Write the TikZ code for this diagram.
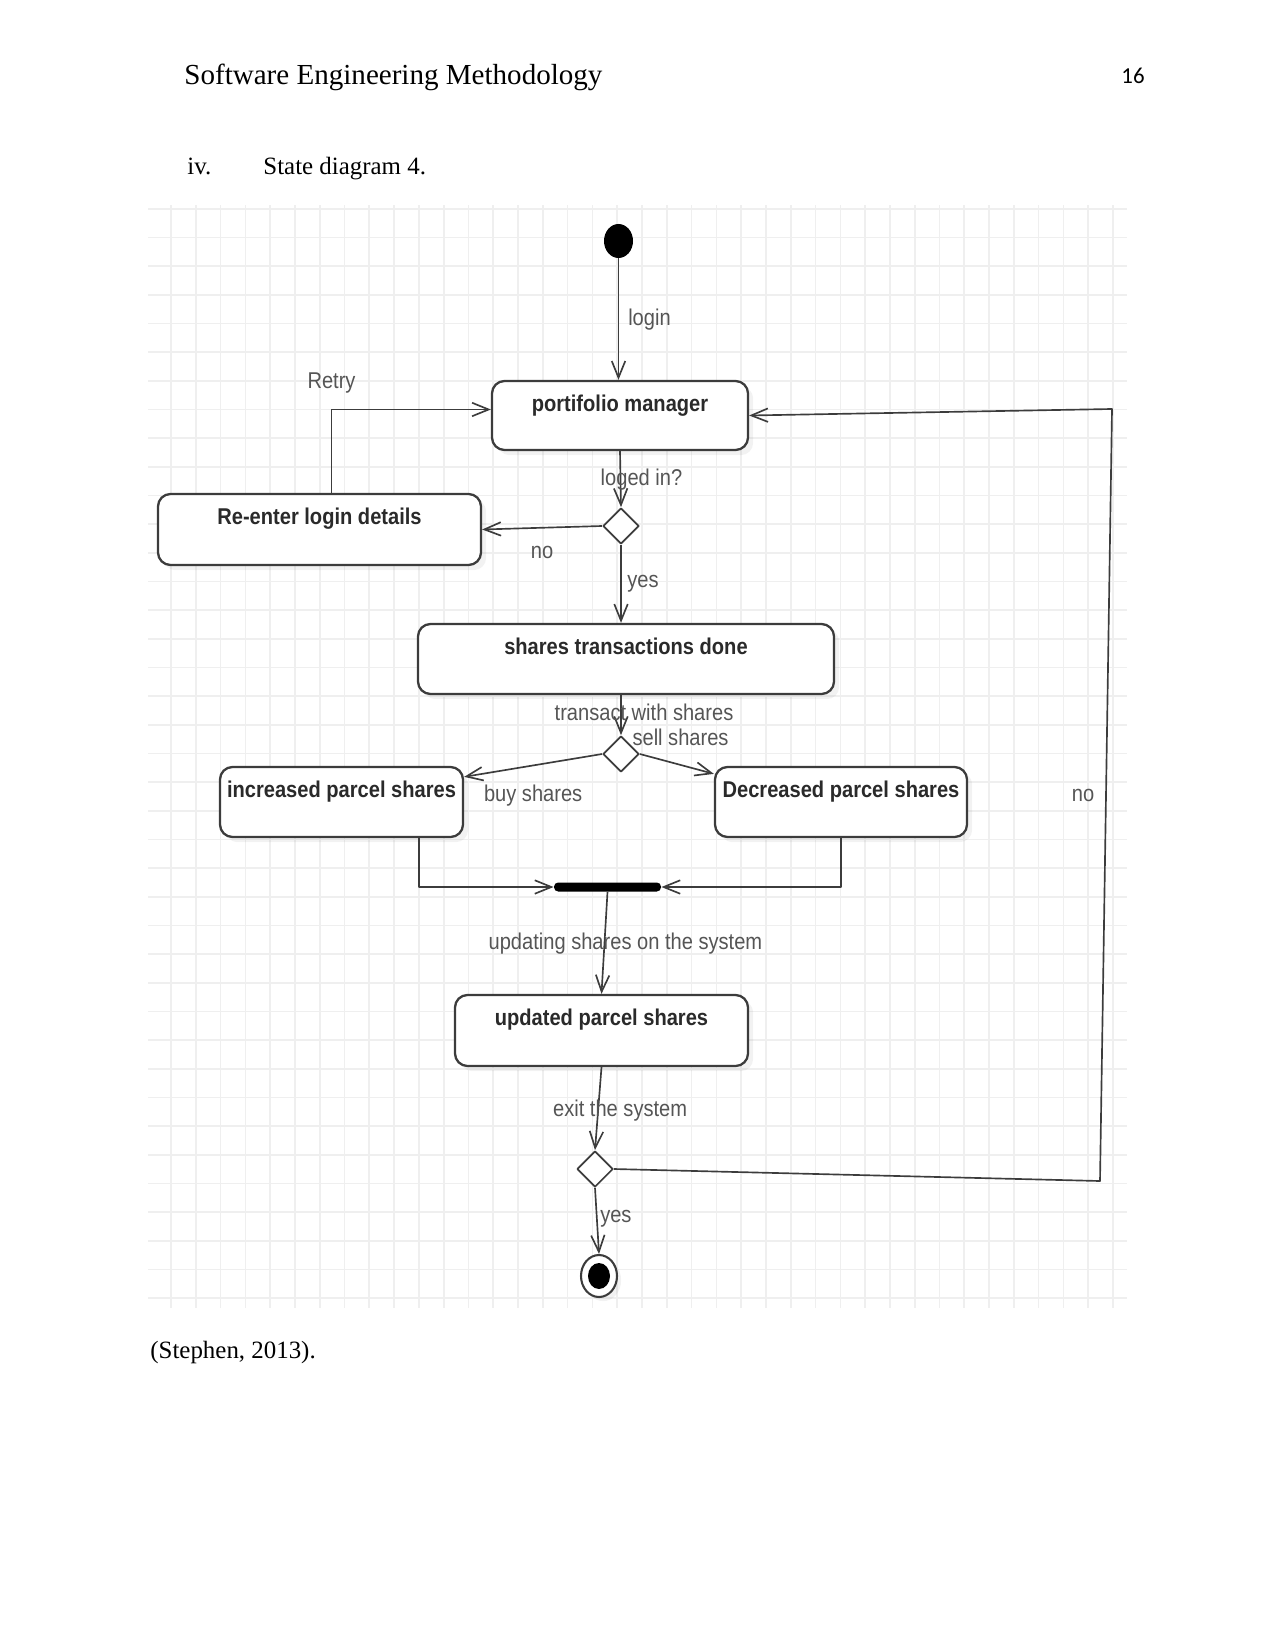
\documentclass[tikz,border=0pt]{standalone}
\usepackage{fontspec}
\setmainfont{Liberation Serif}
\newfontfamily\diagfont[FakeStretch=0.88]{Liberation Sans}
\newfontfamily\pagenumfont{Carlito}
\usetikzlibrary{arrows.meta,shapes.geometric,shadows}
\def\px{0.4818pt}
\definecolor{gridgray}{HTML}{EFEFEF}
\definecolor{linegray}{HTML}{3C3C3C}
\definecolor{labelgray}{HTML}{555555}
\definecolor{namegray}{HTML}{2A2A2A}
\tikzset{
  state/.style={draw=linegray, line width=1.1pt, rounded corners=6pt, fill=white,
    drop shadow={shadow xshift=2.5pt, shadow yshift=-2.5pt, opacity=.1}, inner sep=0pt},
  statename/.style={font=\diagfont\bfseries\fontsize{11}{13}\selectfont, text=namegray,
    anchor=north, yshift=-5.2pt, inner sep=2pt},
  choice/.style={diamond, draw=linegray, line width=.8pt, fill=white, minimum size=36*\px, inner sep=0pt},
  trans/.style={draw=linegray, line width=.8pt, -{Straight Barb[length=8pt,width=6.5pt]}},
  lbl/.style={font=\diagfont\fontsize{11}{13}\selectfont, text=labelgray, inner sep=1pt},
  gridline/.style={draw=gridgray, line width=.8pt},
  pagetext/.style={anchor=base west, inner sep=0pt},
}
\begin{document}
\begin{tikzpicture}[x=\px, y=-\px, line join=round]
  \useasboundingbox (0,0) rectangle (1275,1650);
  % page text
  \node[pagetext, font=\fontsize{14}{17}\selectfont] (head) at (184,85) {Software Engineering Methodology};
  \node[anchor=base east, inner sep=0pt, font=\pagenumfont\fontsize{11}{13}\selectfont] (pagenum) at (1145,84) {16};
  \node[pagetext, font=\fontsize{12}{14}\selectfont] (itemno) at (187,175) {iv.};
  \node[pagetext, font=\fontsize{12}{14}\selectfont] (caption) at (263,175) {State diagram 4.};
  \node[pagetext, font=\fontsize{12}{14}\selectfont] (source) at (150,1358) {(Stephen, 2013).};
  % grid
  \foreach \i in {0,...,38}{
    \draw[gridline] (171+\i*24.79,205) -- (171+\i*24.79,1308);
    \draw[gridline] (148,209+\i*28.66) -- (1127,209+\i*28.66);
  }
  % states
  \node[ellipse, fill=black, minimum width=29*\px, minimum height=34*\px, inner sep=0pt] (init) at (618.5,241) {};
  \node[state, minimum width=256*\px, minimum height=69*\px,
    label={[statename]north:portifolio manager}] (pm) at (620,415.5) {};
  \node[state, minimum width=323*\px, minimum height=71*\px,
    label={[statename]north:Re-enter login details}] (re) at (319.5,529.5) {};
  \node[choice] (d1) at (621,526) {};
  \node[state, minimum width=416*\px, minimum height=70*\px,
    label={[statename]north:shares transactions done}] (std) at (626,659) {};
  \node[choice] (d2) at (621,754) {};
  \node[state, minimum width=243*\px, minimum height=70*\px,
    label={[statename]north:increased parcel shares}] (inc) at (341.5,802) {};
  \node[state, minimum width=252*\px, minimum height=70*\px,
    label={[statename]north:Decreased parcel shares}] (dec) at (841,802) {};
  \node[fill=black, rounded corners=2pt, minimum width=107*\px, minimum height=9*\px, inner sep=0pt] (bar) at (607.5,887) {};
  \node[state, minimum width=293*\px, minimum height=71*\px,
    label={[statename]north:updated parcel shares}] (upd) at (601.5,1030.5) {};
  \node[choice] (d3) at (595,1169) {};
  \node[ellipse, draw=linegray, line width=1pt, fill=white, minimum width=36*\px, minimum height=42*\px, inner sep=0pt,
    drop shadow={shadow xshift=2pt, shadow yshift=-2pt, opacity=.1}] (final) at (599,1276) {};
  \node[ellipse, fill=black, minimum width=22*\px, minimum height=26*\px, inner sep=0pt] (finaldot) at (final) {};
  \coordinate (nb) at (1100,1181);
  \coordinate (nt) at (1112,409);
  % transitions
  \draw[trans] (init) -- node[lbl, pos=.5, xshift=31*\px]{login} (init |- pm.north);
  \draw[trans] (pm.south) -- node[lbl, pos=.5, xshift=21*\px]{loged in?} (d1.north);
  \draw[trans] (d1.west) -- node[lbl, pos=.5, yshift=-25*\px]{no} (re.east);
  \draw[trans] ([xshift=12*\px]re.north) |- node[lbl, pos=.5, yshift=26*\px]{Retry} ([yshift=6*\px]pm.west);
  \draw[trans] (d1.south) -- node[lbl, pos=.5, xshift=22*\px]{yes} (d1 |- std.north);
  \draw[trans] (d2 |- std.south) -- node[lbl, pos=.43, xshift=23*\px]{transact with shares} (d2.north);
  \draw[trans] (d2.west) -- node[lbl, pos=.5, yshift=-30*\px]{buy shares} ([yshift=-11*\px]inc.north east);
  \draw[trans] (d2.east) -- node[lbl, pos=.55, yshift=28*\px]{sell shares} ([yshift=-8*\px]dec.north west);
  \draw[trans] ([xshift=-45*\px]inc.south east) |- (bar.west);
  \draw[trans] (dec.south) |- (bar.east);
  \draw[trans] (bar.south) -- node[lbl, pos=.51, xshift=21*\px]{updating shares on the system} (upd.north);
  \draw[trans] (upd.south) -- node[lbl, pos=.52, xshift=22*\px]{exit the system} (d3.north);
  \draw[trans] (d3.south) -- node[lbl, pos=.47, xshift=19*\px]{yes} (final.north);
  \draw[trans] (d3.east) -- (nb) -- node[lbl, pos=.5, xshift=-23*\px]{no} (nt) -- (pm.east);
\end{tikzpicture}
\end{document}
